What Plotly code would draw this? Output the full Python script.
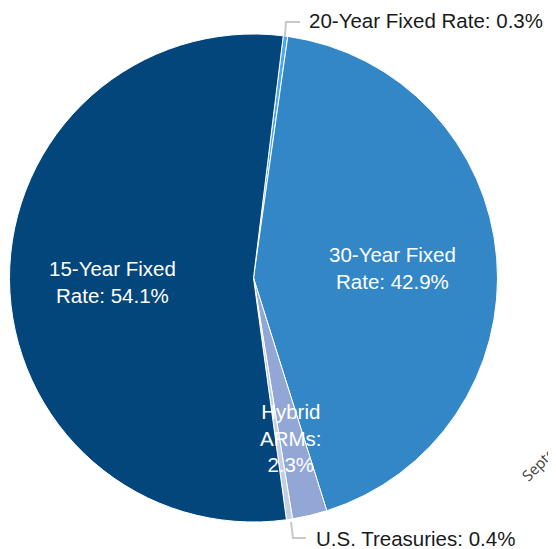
import plotly.graph_objects as go

labels = ['20-Year Fixed Rate', '30-Year Fixed Rate', 'Hybrid ARMs', 'U.S. Treasuries', '15-Year Fixed Rate']
values = [0.3, 42.9, 2.3, 0.4, 54.1]
colors = ['#4aa9f2', '#3387c7', '#93a7d6', '#c3cfe2', '#03467b']

W, H = 556, 549
OFF = 8  # page body margin offsets the figure inside the window


def px_x(v):
    return (v - OFF) / W


def px_y(v):
    return 1 - (v - OFF) / H


fig = go.Figure()
fig.add_trace(go.Pie(
    labels=labels,
    values=values,
    sort=False,
    direction='clockwise',
    rotation=7,
    textinfo='none',
    hoverinfo='label+percent',
    marker=dict(colors=colors, line=dict(color='white', width=1)),
    domain=dict(x=[px_x(9.5), px_x(497.5)], y=[px_y(522), px_y(34)]),
    showlegend=False,
))

font_fam = 'Liberation Sans, Arial, sans-serif'
white = dict(family=font_fam, size=20.5, color='white')
dark = dict(family=font_fam, size=20.5, color='#1a1a1a')

anns = [
    dict(x=px_x(112), y=px_y(282), text=f'15-Year Fixed<br>Rate: {values[4]}%', font=white),
    dict(x=px_x(392), y=px_y(268), text=f'30-Year Fixed<br>Rate: {values[1]}%', font=white),
    dict(x=px_x(291), y=px_y(438), text=f'Hybrid<br>ARMs:<br>{values[2]}%', font=white),
    dict(x=px_x(307), y=px_y(21), text=f'20-Year Fixed Rate: {values[0]}%', font=dark, xanchor='left'),
    dict(x=px_x(314), y=px_y(538), text=f'U.S. Treasuries: {values[3]}%', font=dark, xanchor='left'),
    dict(x=px_x(514), y=px_y(488), text='September', textangle=-45, xanchor='left', yanchor='bottom',
         font=dict(family='Open Sans, DejaVu Sans, sans-serif', size=15, color='#404040')),
]
for a in anns:
    a.setdefault('xanchor', 'center')
    a.setdefault('yanchor', 'middle')
    fig.add_annotation(xref='paper', yref='paper', showarrow=False, **a)

# leader lines for the two small outside labels
lc = dict(color='#c8c8c8', width=2)
fig.add_shape(type='path', xref='paper', yref='paper',
              path=f'M {px_x(285)} {px_y(36)} L {px_x(286)} {px_y(22)} L {px_x(300)} {px_y(22)}', line=lc)
fig.add_shape(type='path', xref='paper', yref='paper',
              path=f'M {px_x(291)} {px_y(522)} L {px_x(293)} {px_y(538)} L {px_x(306)} {px_y(538)}', line=lc)

fig.update_layout(
    width=W, height=H,
    margin=dict(l=0, r=0, t=0, b=0),
    paper_bgcolor='white',
    plot_bgcolor='white',
)

fig.write_html('out.html')
